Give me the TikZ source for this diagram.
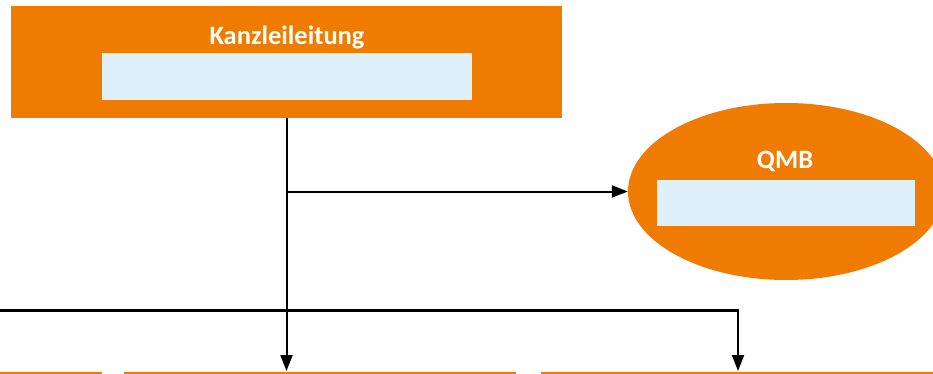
\documentclass[tikz,border=0pt]{standalone}
\usepackage{fontspec}
\setmainfont{Carlito}
\usetikzlibrary{arrows.meta,shapes.geometric,calc}
\definecolor{org}{HTML}{EF7B00}
\definecolor{lblue}{HTML}{DEF0FA}
\tikzset{
  orgbox/.style={rectangle, fill=org, draw=none, inner sep=0pt},
  orgell/.style={ellipse, fill=org, draw=none, inner sep=0pt},
  bluebox/.style={rectangle, fill=lblue, draw=none, inner sep=0pt},
  title/.style={text=white, font=\bfseries\fontsize{26.5}{30}\selectfont, inner sep=0pt},
  lowbox/.style={rectangle, fill=org, draw=none, inner sep=0pt},
  conn/.style={draw=black, line width=2pt, -{Triangle[width=12pt,length=16pt]}},
  connthick/.style={draw=black, line width=3pt},
}
\begin{document}
\begin{tikzpicture}[x=1pt,y=-1pt]
\fill[white] (0,0) rectangle (933,374);
\useasboundingbox (0,0) rectangle (933,374);
\begin{scope}
\clip (0,0) rectangle (933,374);
% top box
\node[orgbox, minimum width=551pt, minimum height=112pt] (kl) at (286.5,62) {};
\node[title] (klt) at (287,37) {Kanzleileitung};
\node[bluebox, minimum width=370pt, minimum height=47pt] (klb) at (287,76.5) {};
% QMB ellipse
\node[orgell, minimum width=316pt, minimum height=177pt] (qmb) at (786,191.5) {};
\node[title] (qmbt) at (785,161) {QMB};
\node[bluebox, minimum width=258pt, minimum height=46pt] (qmbb) at (786,203) {};
% lower boxes (only their top edges are visible)
\node[lowbox, anchor=north, minimum width=202pt, minimum height=2pt] (b1) at (1,372) {};
\node[lowbox, anchor=north, minimum width=392pt, minimum height=2pt] (b2) at (320,372) {};
\node[lowbox, anchor=north, minimum width=394pt, minimum height=2pt] (b3) at (738,372) {};
% connectors
\coordinate (left) at (-5,310);
\draw[conn] (kl.south) -- ($(kl.south |- b2.north)+(0,-1)$);
\draw[conn] (kl.south |- qmb.west) -- (qmb.west);
\draw[connthick] (left) -- (b3.north |- left);
\draw[conn] ($(b3.north |- left)+(0,-1.5)$) -- ($(b3.north)+(0,-1)$);
\end{scope}
\end{tikzpicture}
\end{document}
